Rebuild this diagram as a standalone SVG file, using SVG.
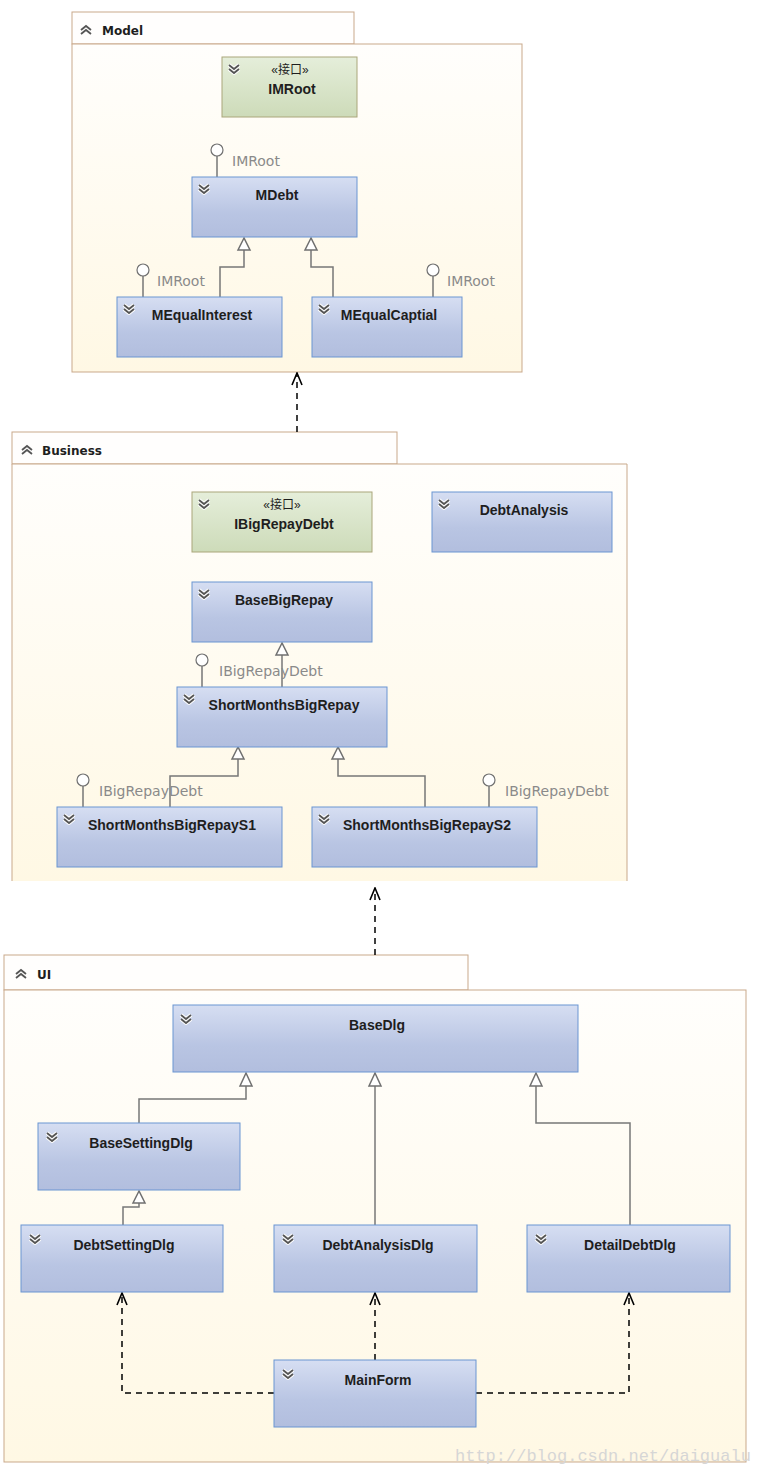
<svg xmlns="http://www.w3.org/2000/svg" xmlns:xlink="http://www.w3.org/1999/xlink" width="762" height="1473" viewBox="0 0 762 1473">
<defs>
<linearGradient id="gBlue" x1="0" y1="0" x2="0" y2="1">
<stop offset="0" stop-color="#d6def2"/><stop offset="0.6" stop-color="#b9c5e3"/><stop offset="1" stop-color="#b2bede"/>
</linearGradient>
<linearGradient id="gGreen" x1="0" y1="0" x2="0" y2="1">
<stop offset="0" stop-color="#e5eeda"/><stop offset="1" stop-color="#cddbb9"/>
</linearGradient>
<linearGradient id="gPkg" x1="0" y1="0" x2="0" y2="1">
<stop offset="0" stop-color="#fffefc"/><stop offset="1" stop-color="#fff8e4"/>
</linearGradient>
<g id="chevD">
<path d="M-5,-5 L0,-1 L5,-5 M-5,-1 L0,3 L5,-1" fill="none" stroke="#ffffff" stroke-width="4" stroke-linejoin="round"/>
<path d="M-5,-5 L0,-1 L5,-5 M-5,-1 L0,3 L5,-1" fill="none" stroke="#555555" stroke-width="1.8"/>
</g>
<g id="chevU">
<path d="M-5,0 L0,-4 L5,0 M-5,4 L0,0 L5,4" fill="none" stroke="#555555" stroke-width="1.8"/>
</g>
<marker id="open" viewBox="0 0 14 12" refX="13" refY="6" markerWidth="14" markerHeight="12" markerUnits="userSpaceOnUse" orient="auto">
<path d="M1,1 L13,6 L1,11" fill="none" stroke="#000" stroke-width="1.6"/>
</marker>
</defs>
<style>
.pkgBody{fill:url(#gPkg);stroke:#c9a98b;stroke-width:1}
.pkgTab{fill:#fffefd;stroke:#c9a98b;stroke-width:1}
.pkgTitle{font-family:"DejaVu Sans","Liberation Sans",sans-serif;font-weight:bold;font-size:12px;fill:#1e1e1e}
.cls{fill:url(#gBlue);stroke:#6b95d2;stroke-width:1}
.ifc{fill:url(#gGreen);stroke:#aaa67a;stroke-width:1}
.name{font-family:"Liberation Sans",Arial,sans-serif;font-weight:bold;font-size:14px;fill:#1e1e1e;text-anchor:middle}
.ster{font-family:"Liberation Sans","Noto Sans CJK SC",sans-serif;font-size:12px;fill:#1e1e1e;text-anchor:middle}
.lbl{font-family:"DejaVu Sans","Liberation Sans",sans-serif;font-size:14px;fill:#8a8a8a}
.inh{fill:none;stroke:#777777;stroke-width:1.5}
.tri{fill:#ffffff;stroke:#707070;stroke-width:1.5}
.lol{fill:#ffffff;stroke:#707070;stroke-width:1.2}
.dep{fill:none;stroke:#000000;stroke-width:1.5;stroke-dasharray:6,5}
.wm{font-family:"Liberation Mono",monospace;font-size:17px;fill:#d6d6d6}
</style>

<!-- Packages -->
<g id="pkg-model">
<rect class="pkgTab" x="72" y="12" width="282" height="32"/>
<rect class="pkgBody" x="72" y="44" width="450" height="328"/>
<use xlink:href="#chevU" x="86" y="30"/>
<text class="pkgTitle" x="102" y="35">Model</text>
</g>
<g id="pkg-business">
<rect class="pkgTab" x="12" y="432" width="385" height="32"/>
<rect x="12" y="464" width="615" height="417" fill="url(#gPkg)"/>
<path d="M12,881 V464 H627 V881" fill="none" stroke="#c9a98b"/>
<use xlink:href="#chevU" x="27" y="450"/>
<text class="pkgTitle" x="42" y="455">Business</text>
</g>
<g id="pkg-ui">
<rect class="pkgTab" x="4" y="955" width="464" height="35"/>
<rect class="pkgBody" x="4" y="990" width="742" height="472"/>
<use xlink:href="#chevU" x="21" y="974"/>
<text class="pkgTitle" x="37" y="979">UI</text>
</g>

<!-- Connectors -->
<g id="connectors">
<!-- Model -->
<path class="inh" d="M220,297 V267 H244 V250"/>
<path class="tri" d="M244,238 L238,250 L250,250 Z"/>
<path class="inh" d="M333,297 V267 H311 V250"/>
<path class="tri" d="M311,238 L305,250 L317,250 Z"/>
<path class="inh" d="M217,156 V177 M143,276 V297 M433,276 V297"/>
<circle class="lol" cx="217" cy="150" r="6"/>
<circle class="lol" cx="143" cy="270" r="6"/>
<circle class="lol" cx="433" cy="270" r="6"/>
<!-- Business -->
<path class="inh" d="M282,687 V655"/>
<path class="tri" d="M282,643 L276,655 L288,655 Z"/>
<path class="inh" d="M170,807 V776 H238 V759"/>
<path class="tri" d="M238,747 L232,759 L244,759 Z"/>
<path class="inh" d="M425,807 V776 H338 V759"/>
<path class="tri" d="M338,747 L332,759 L344,759 Z"/>
<path class="inh" d="M202,666 V687 M83,786 V807 M489,786 V807"/>
<circle class="lol" cx="202" cy="660" r="6"/>
<circle class="lol" cx="83" cy="780" r="6"/>
<circle class="lol" cx="489" cy="780" r="6"/>
<!-- UI -->
<path class="inh" d="M139,1123 V1099 H246 V1086"/>
<path class="tri" d="M246,1073 L240,1086 L252,1086 Z"/>
<path class="inh" d="M375,1225 V1086"/>
<path class="tri" d="M375,1073 L369,1086 L381,1086 Z"/>
<path class="inh" d="M630,1225 V1123 H536 V1086"/>
<path class="tri" d="M536,1073 L530,1086 L542,1086 Z"/>
<path class="inh" d="M123,1225 V1207 H139 V1203"/>
<path class="tri" d="M139,1191 L133,1203 L145,1203 Z"/>
<!-- Dependencies -->
<path class="dep" d="M297,432 V373" marker-end="url(#open)"/>
<path class="dep" d="M375,955 V888" marker-end="url(#open)"/>
<path class="dep" d="M274,1393 H122 V1293" marker-end="url(#open)"/>
<path class="dep" d="M375,1360 V1293" marker-end="url(#open)"/>
<path class="dep" d="M476,1393 H629 V1293" marker-end="url(#open)"/>
</g>

<!-- Labels of lollipops -->
<g id="lollipop-labels">
<text class="lbl" x="232" y="166">IMRoot</text>
<text class="lbl" x="157" y="286">IMRoot</text>
<text class="lbl" x="447" y="286">IMRoot</text>
<text class="lbl" x="219" y="676">IBigRepayDebt</text>
<text class="lbl" x="99" y="796">IBigRepayDebt</text>
<text class="lbl" x="505" y="796">IBigRepayDebt</text>
</g>

<!-- Model nodes -->
<g id="IMRoot">
<rect class="ifc" x="222" y="57" width="135" height="60"/>
<use xlink:href="#chevD" x="234" y="70"/>
<text class="ster" x="290" y="74">«接口»</text>
<text class="name" x="292" y="94">IMRoot</text>
</g>
<g id="MDebt">
<rect class="cls" x="192" y="177" width="165" height="60"/>
<use xlink:href="#chevD" x="204" y="190"/>
<text class="name" x="277" y="200">MDebt</text>
</g>
<g id="MEqualInterest">
<rect class="cls" x="117" y="297" width="165" height="60"/>
<use xlink:href="#chevD" x="129" y="310"/>
<text class="name" x="202" y="320">MEqualInterest</text>
</g>
<g id="MEqualCaptial">
<rect class="cls" x="312" y="297" width="150" height="60"/>
<use xlink:href="#chevD" x="324" y="310"/>
<text class="name" x="389" y="320">MEqualCaptial</text>
</g>

<!-- Business nodes -->
<g id="IBigRepayDebt">
<rect class="ifc" x="192" y="492" width="180" height="60"/>
<use xlink:href="#chevD" x="204" y="505"/>
<text class="ster" x="282" y="509">«接口»</text>
<text class="name" x="284" y="529">IBigRepayDebt</text>
</g>
<g id="DebtAnalysis">
<rect class="cls" x="432" y="492" width="180" height="60"/>
<use xlink:href="#chevD" x="444" y="505"/>
<text class="name" x="524" y="515">DebtAnalysis</text>
</g>
<g id="BaseBigRepay">
<rect class="cls" x="192" y="582" width="180" height="60"/>
<use xlink:href="#chevD" x="204" y="595"/>
<text class="name" x="284" y="605">BaseBigRepay</text>
</g>
<g id="ShortMonthsBigRepay">
<rect class="cls" x="177" y="687" width="210" height="60"/>
<use xlink:href="#chevD" x="189" y="700"/>
<text class="name" x="284" y="710">ShortMonthsBigRepay</text>
</g>
<g id="ShortMonthsBigRepayS1">
<rect class="cls" x="57" y="807" width="225" height="60"/>
<use xlink:href="#chevD" x="69" y="820"/>
<text class="name" x="172" y="830">ShortMonthsBigRepayS1</text>
</g>
<g id="ShortMonthsBigRepayS2">
<rect class="cls" x="312" y="807" width="225" height="60"/>
<use xlink:href="#chevD" x="324" y="820"/>
<text class="name" x="427" y="830">ShortMonthsBigRepayS2</text>
</g>

<!-- UI nodes -->
<g id="BaseDlg">
<rect class="cls" x="173" y="1005" width="405" height="67"/>
<use xlink:href="#chevD" x="186" y="1020"/>
<text class="name" x="377" y="1030">BaseDlg</text>
</g>
<g id="BaseSettingDlg">
<rect class="cls" x="38" y="1123" width="202" height="67"/>
<use xlink:href="#chevD" x="52" y="1138"/>
<text class="name" x="141" y="1148">BaseSettingDlg</text>
</g>
<g id="DebtSettingDlg">
<rect class="cls" x="21" y="1225" width="202" height="67"/>
<use xlink:href="#chevD" x="35" y="1240"/>
<text class="name" x="124" y="1250">DebtSettingDlg</text>
</g>
<g id="DebtAnalysisDlg">
<rect class="cls" x="274" y="1225" width="203" height="67"/>
<use xlink:href="#chevD" x="288" y="1240"/>
<text class="name" x="378" y="1250">DebtAnalysisDlg</text>
</g>
<g id="DetailDebtDlg">
<rect class="cls" x="527" y="1225" width="203" height="67"/>
<use xlink:href="#chevD" x="541" y="1240"/>
<text class="name" x="630" y="1250">DetailDebtDlg</text>
</g>
<g id="MainForm">
<rect class="cls" x="274" y="1360" width="202" height="67"/>
<use xlink:href="#chevD" x="288" y="1375"/>
<text class="name" x="378" y="1385">MainForm</text>
</g>

<text class="wm" x="455" y="1461">http://blog.csdn.net/daigualu</text>
</svg>
